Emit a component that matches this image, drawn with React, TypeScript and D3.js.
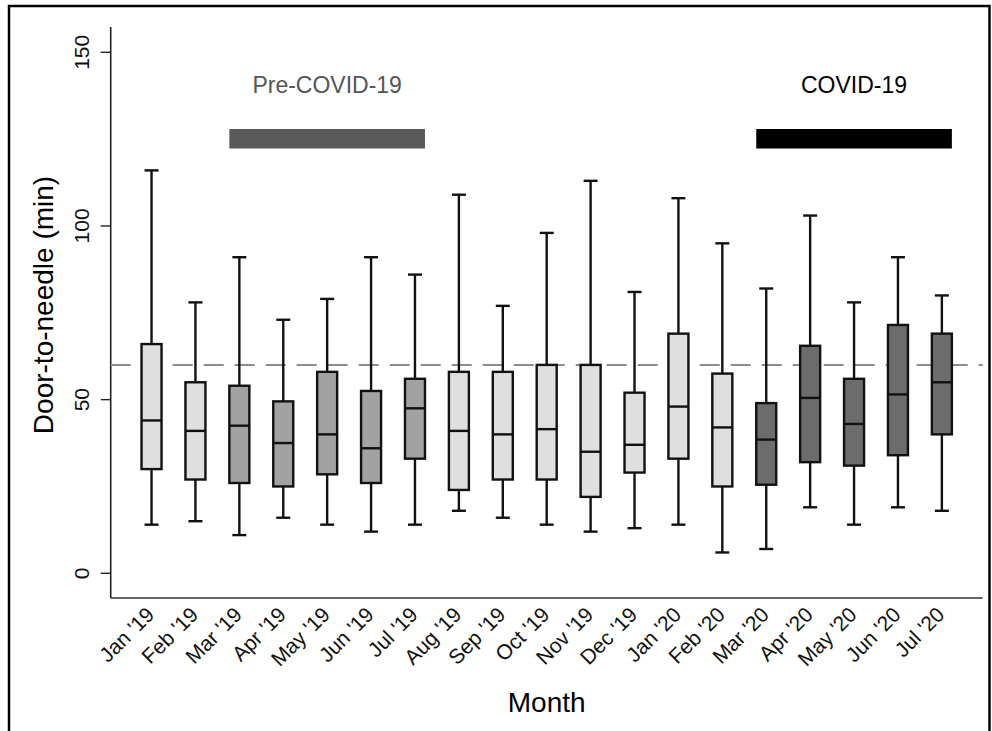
import React from "react";
import * as d3 from "d3";

// monthly door-to-needle times (min)
const months = [
  "Jan '19", "Feb '19", "Mar '19", "Apr '19", "May '19", "Jun '19", "Jul '19",
  "Aug '19", "Sep '19", "Oct '19", "Nov '19", "Dec '19", "Jan '20", "Feb '20",
  "Mar '20", "Apr '20", "May '20", "Jun '20", "Jul '20",
];
const whiskerLow = [14, 15, 11, 16, 14, 12, 14, 18, 16, 14, 12, 13, 14, 6, 7, 19, 14, 19, 18];
const q1 = [30, 27, 26, 25, 28.5, 26, 33, 24, 27, 27, 22, 29, 33, 25, 25.5, 32, 31, 34, 40];
const median = [44, 41, 42.5, 37.5, 40, 36, 47.5, 41, 40, 41.5, 35, 37, 48, 42, 38.5, 50.5, 43, 51.5, 55];
const q3 = [66, 55, 54, 49.5, 58, 52.5, 56, 58, 58, 60, 60, 52, 69, 57.5, 49, 65.5, 56, 71.5, 69];
const whiskerHigh = [116, 78, 91, 73, 79, 91, 86, 109, 77, 98, 113, 81, 108, 95, 82, 103, 78, 91, 80];
const group = [
  "other", "other", "pre", "pre", "pre", "pre", "pre", "other", "other", "other",
  "other", "other", "other", "other", "covid", "covid", "covid", "covid", "covid",
];
const yTicks = [0, 50, 100, 150];
const target = 60;

const periods = [
  { label: "Pre-COVID-19", from: "Mar '19", to: "Jul '19", color: "#5a5a5a", text: "#555555" },
  { label: "COVID-19", from: "Mar '20", to: "Jul '20", color: "#000000", text: "#000000" },
];

const fills: Record<string, string> = { other: "#dfdfdf", pre: "#a2a2a2", covid: "#6c6c6c" };

const font = "'Liberation Sans', Arial, Helvetica, sans-serif";

export default function App() {
  const left = 110.7;
  const right = 982.7;
  const top = 27;
  const bottom = 598;

  const x = d3.scalePoint<string>().domain(months).range([left, right]).padding(0.93);
  const y = d3.scaleLinear().domain([0, 150]).range([573.3, 52.3]);
  const boxW = 20;
  const capW = 14;

  return (
    <svg
      width={992}
      height={731}
      style={{ position: "absolute", left: 0, top: 0, background: "#fff" }}
      fontFamily={font}
    >
      {/* outer frame */}
      <path d="M9,731 V6 H989.5 V731" fill="none" stroke="#000" strokeWidth={2.5} />

      {/* axes */}
      <line x1={left} x2={left} y1={top} y2={bottom} stroke="#222" strokeWidth={1.6} />
      <line x1={left} x2={right} y1={bottom} y2={bottom} stroke="#333" strokeWidth={1.6} />

      {yTicks.map((t) => (
        <g key={t}>
          <line x1={left - 10} x2={left} y1={y(t)} y2={y(t)} stroke="#222" strokeWidth={1.4} />
          <text
            transform={`translate(89,${y(t)}) rotate(-90)`}
            textAnchor="middle"
            fontSize={21}
            fill="#111"
          >
            {t}
          </text>
        </g>
      ))}

      {/* 60 min target */}
      <line
        x1={left}
        x2={right}
        y1={y(target)}
        y2={y(target)}
        stroke="#8c8c8c"
        strokeWidth={2}
        strokeDasharray="20 11"
      />

      {/* boxes */}
      {months.map((m, i) => {
        const cx = x(m)!;
        return (
          <g key={m} stroke="#111" strokeWidth={2.4}>
            <line x1={cx} x2={cx} y1={y(whiskerHigh[i])} y2={y(q3[i])} />
            <line x1={cx} x2={cx} y1={y(q1[i])} y2={y(whiskerLow[i])} />
            <line x1={cx - capW / 2} x2={cx + capW / 2} y1={y(whiskerHigh[i])} y2={y(whiskerHigh[i])} />
            <line x1={cx - capW / 2} x2={cx + capW / 2} y1={y(whiskerLow[i])} y2={y(whiskerLow[i])} />
            <rect
              x={cx - boxW / 2}
              y={y(q3[i])}
              width={boxW}
              height={y(q1[i]) - y(q3[i])}
              fill={fills[group[i]]}
            />
            <line x1={cx - boxW / 2} x2={cx + boxW / 2} y1={y(median[i])} y2={y(median[i])} />
          </g>
        );
      })}

      {/* period bars */}
      {periods.map((p) => {
        const x0 = x(p.from)! - boxW / 2;
        const x1 = x(p.to)! + boxW / 2;
        return (
          <g key={p.label}>
            <text x={(x0 + x1) / 2} y={93} textAnchor="middle" fontSize={23} fill={p.text}>
              {p.label}
            </text>
            <rect x={x0} y={129} width={x1 - x0} height={19.5} fill={p.color} />
          </g>
        );
      })}

      {/* x tick labels */}
      {months.map((m) => (
        <text
          key={m}
          transform={`translate(${x(m)! + 4},${616}) rotate(-45)`}
          textAnchor="end"
          fontSize={21}
          fill="#111"
        >
          {m}
        </text>
      ))}

      {/* axis titles */}
      <text x={(left + right) / 2} y={712} textAnchor="middle" fontSize={28} fill="#000">
        Month
      </text>
      <text
        transform={`translate(53,${305}) rotate(-90)`}
        textAnchor="middle"
        fontSize={28}
        fill="#000"
      >
        Door-to-needle (min)
      </text>
    </svg>
  );
}
